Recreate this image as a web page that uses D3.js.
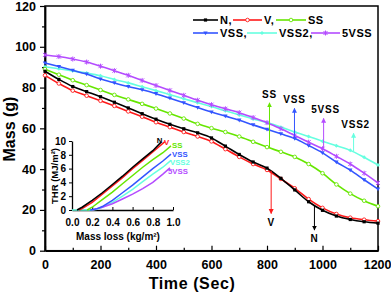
<!DOCTYPE html>
<html>
<head>
<meta charset="utf-8">
<script src="https://cdn.jsdelivr.net/npm/d3@7"></script>
<style>
	body { margin: 0; background: #fff; }
	text { font-family: "Liberation Sans", Arial, sans-serif; font-weight: bold; }
</style>
</head>
<body>
<div id="chart-area"></div>
<script>

// time (s) and mass (g)
var time = [0, 50, 100, 150, 200, 250, 300, 350, 400, 450, 500, 550, 600,
	650, 700, 750, 800, 850, 900, 950, 1000, 1050, 1100, 1150, 1200];

var massN = [88, 84, 80.5, 78, 75.5, 72.8, 70, 67.2, 64.5, 62, 59.8, 57.8, 55.3,
	51.3, 47.2, 43.5, 40.5, 35.5, 29.8, 24, 19.8, 17, 15.3, 14.2, 13.5];
var massV = [86, 82, 78.5, 76, 73.5, 71, 68.3, 65.7, 63, 60.6, 58.2, 56, 53.6,
	49.8, 46, 42.5, 39.6, 35.2, 30.6, 25.3, 21, 18, 16.2, 15.2, 14.5];
var massSS = [89, 86.3, 83.6, 81.2, 78.8, 76.4, 74.2, 72, 69.7, 67.3, 64.8, 62.2, 60.1,
	58.2, 56, 53.4, 50.8, 48.5, 46, 42.5, 38, 32.5, 28, 24.5, 21.8];
var massVSS = [92, 90.3, 88.5, 86.6, 84.2, 82.3, 80.5, 78.9, 77, 74.8, 72.5, 70.2, 68,
	66, 64, 61.7, 59.5, 57.3, 55, 51.6, 48, 43.5, 39.5, 34.8, 30.2];
var massVSS2 = [90.2, 89.2, 88.2, 87.1, 85.8, 84, 82.3, 80.4, 78.5, 76.5, 74.5, 72.6, 70.7,
	68.6, 66.6, 64.6, 62.8, 60.6, 58.2, 56, 53.7, 51.5, 49.2, 45.8, 42];
var mass5VSS = [96, 95.2, 94, 92.5, 90.5, 88.3, 86, 83.5, 81, 78.6, 76.2, 73.8, 71.6,
	69.6, 67.7, 65.3, 62.8, 59.8, 56.5, 53.2, 50, 46.3, 42.5, 38, 33.2];

var seriesNames = ["N", "V", "SS", "VSS", "VSS2", "5VSS"];
var legendNames = ["N,", "V,", "SS", "VSS,", "VSS2,", "5VSS"];
var seriesColors = ["#000000", "#ff1a1a", "#66e600", "#3355ff", "#66ffe0", "#b44cff"];

// arrows pointing at the curves
var arrowNames = ["SS", "VSS", "5VSS", "VSS2", "V", "N"];
var arrowTime = [809, 899, 1004, 1112, 815, 971];
var arrowFrom = [50.5, 55, 50, 48.8, 39.3, 22];
var arrowTo = [72.5, 69.8, 64.9, 57.6, 18.2, 10.1];

// inset: THR (MJ/m2) against mass loss (kg/m2)
var lossN = [0.05, 0.1, 0.2, 0.3, 0.4, 0.5, 0.6, 0.7, 0.8, 0.88];
var thrN = [0, 0.4, 1.4, 2.5, 3.7, 4.9, 6.2, 7.4, 8.6, 9.8];
var lossV = [0.07, 0.1, 0.2, 0.3, 0.4, 0.5, 0.6, 0.7, 0.8, 0.92];
var thrV = [0, 0.2, 1.1, 2.3, 3.5, 4.7, 6, 7.2, 8.4, 9.9];
var lossSS = [0.15, 0.2, 0.3, 0.4, 0.5, 0.6, 0.7, 0.8, 0.9, 0.98];
var thrSS = [0, 0.4, 1.5, 2.6, 3.8, 5, 6.2, 7.3, 8.3, 9.3];
var lossVSS = [0.18, 0.25, 0.3, 0.4, 0.5, 0.6, 0.7, 0.8, 0.9, 0.98];
var thrVSS = [0, 0.2, 0.5, 1.4, 2.5, 3.6, 4.8, 6, 7.1, 8.1];
var lossVSS2 = [0, 0.1, 0.2, 0.25, 0.3, 0.4, 0.5, 0.6, 0.7, 0.8, 0.9, 0.98];
var thrVSS2 = [0, 0, 0, 0.1, 0.4, 1.1, 2, 3, 4.1, 5.2, 6.2, 7.2];
var loss5VSS = [0.2, 0.3, 0.4, 0.5, 0.6, 0.7, 0.8, 0.9, 0.97];
var thr5VSS = [0, 0.4, 0.9, 1.6, 2.3, 3.1, 4, 5.2, 6.1];
var insetLabelX = [0.84, 0.91, 0.99, 0.99, 0.97, 0.95];
var insetLabelY = [10.1, 9.8, 9.35, 8.1, 6.95, 5.7];

var allMass = [massN, massV, massSS, massVSS, massVSS2, mass5VSS];
var allLoss = [lossN, lossV, lossSS, lossVSS, lossVSS2, loss5VSS];
var allThr = [thrN, thrV, thrSS, thrVSS, thrVSS2, thr5VSS];

var svg = d3.select("#chart-area").append("svg")
	.attr("width", 391)
	.attr("height", 294);

var x = d3.scaleLinear().domain([0, 1200]).range([45, 378]);
var y = d3.scaleLinear().domain([0, 120]).range([250.7, 6]);

// frame
svg.append("rect")
	.attr("x", x(0)).attr("y", y(120))
	.attr("width", x(1200) - x(0)).attr("height", y(0) - y(120))
	.attr("fill", "none").attr("stroke", "#000").attr("stroke-width", 1.5);

// minor ticks
svg.append("g")
	.attr("transform", "translate(0," + y(0) + ")")
	.call(d3.axisBottom(x).tickValues(d3.range(100, 1200, 200)).tickSize(-3).tickFormat(""))
	.call(function(g) { g.select(".domain").remove(); });
svg.append("g")
	.attr("transform", "translate(" + x(0) + ",0)")
	.call(d3.axisLeft(y).tickValues(d3.range(10, 120, 20)).tickSize(3).tickFormat(""))
	.call(function(g) { g.select(".domain").remove(); });

var xAxis = svg.append("g")
	.attr("class", "axis xAxis")
	.attr("transform", "translate(0," + y(0) + ")")
	.call(d3.axisBottom(x).tickValues(d3.range(0, 1201, 200)).tickFormat(d3.format("d"))
		.tickSizeInner(-5).tickSizeOuter(0).tickPadding(9));
var yAxis = svg.append("g")
	.attr("class", "axis yAxis")
	.attr("transform", "translate(" + x(0) + ",0)")
	.call(d3.axisLeft(y).tickValues(d3.range(0, 121, 20)).tickSizeInner(5).tickSizeOuter(0).tickPadding(4));

svg.selectAll(".axis .domain").attr("stroke-width", 1.8);
svg.selectAll(".axis text").attr("font-size", "12.5px").attr("fill", "#000");
svg.selectAll(".tick line").attr("stroke-width", 1.2);
// keep the last label inside the window
xAxis.selectAll(".tick text").filter(function(d) { return d == 1200; }).attr("text-anchor", "end").attr("dx", "13px");

svg.append("text")
	.attr("x", 192).attr("y", 289)
	.attr("text-anchor", "middle")
	.attr("font-size", "16px")
	.attr("letter-spacing", "0.6px")
	.text("Time (Sec)");
svg.append("text")
	.attr("transform", "translate(15,129) rotate(-90)")
	.attr("text-anchor", "middle")
	.attr("font-size", "16px")
	.text("Mass (g)");

// markers
var drawMarker = function(g, k, cx, cy) {
	var c = seriesColors[k];
	if (k == 0) {
		g.append("rect").attr("x", cx - 1.6).attr("y", cy - 1.6).attr("width", 3.2).attr("height", 3.2).attr("fill", c);
	} else if (k == 1 || k == 2) {
		g.append("circle").attr("cx", cx).attr("cy", cy).attr("r", 1.8).attr("fill", "#fff").attr("stroke", c).attr("stroke-width", 0.9);
	} else if (k == 3) {
		g.append("path").attr("d", "M" + (cx - 2.2) + "," + (cy - 1.6) + "h4.4l-2.2,3.8z").attr("fill", c);
	} else if (k == 4) {
		g.append("path").attr("d", "M" + cx + "," + (cy - 2) + "l2,2l-2,2l-2,-2z").attr("fill", c);
	} else {
		g.append("path").attr("d", "M" + (cx - 2) + "," + (cy - 2) + "l4,4M" + (cx + 2) + "," + (cy - 2) + "l-4,4M" + cx + "," + (cy - 2.5) + "v5")
			.attr("stroke", c).attr("stroke-width", 1);
	}
};

var line = d3.line()
	.x(function(d) { return x(d[0]); })
	.y(function(d) { return y(d[1]); })
	.curve(d3.curveMonotoneX);

var drawOrder = [4, 3, 5, 2, 1, 0];
drawOrder.forEach(function(k) {
	var pts = time.map(function(t, i) { return [t, allMass[k][i]]; });
	var g = svg.append("g");
	g.append("path")
		.attr("d", line(pts))
		.attr("fill", "none")
		.attr("stroke", seriesColors[k])
		.attr("stroke-width", 1.6);
	pts.forEach(function(p) { drawMarker(g, k, x(p[0]), y(p[1])); });
});

// arrows
var arrowColor = { "SS": 2, "VSS": 3, "5VSS": 5, "VSS2": 4, "V": 1, "N": 0 };
svg.append("defs").selectAll("marker")
	.data(seriesNames)
	.enter().append("marker")
	.attr("id", function(d, i) { return "ah" + i; })
	.attr("viewBox", "0 0 10 10")
	.attr("refX", 9).attr("refY", 5)
	.attr("markerWidth", 5).attr("markerHeight", 6)
	.attr("markerUnits", "userSpaceOnUse")
	.attr("orient", "auto")
	.append("path").attr("d", "M0,0L10,5L0,10z")
	.attr("fill", function(d, i) { return seriesColors[i]; });

arrowNames.forEach(function(name, i) {
	var k = arrowColor[name];
	var up = arrowTo[i] > arrowFrom[i];
	svg.append("line")
		.attr("x1", x(arrowTime[i])).attr("x2", x(arrowTime[i]))
		.attr("y1", y(arrowFrom[i])).attr("y2", y(arrowTo[i]))
		.attr("stroke", seriesColors[k]).attr("stroke-width", 1)
		.attr("marker-end", "url(#ah" + k + ")");
	svg.append("text")
		.attr("x", x(arrowTime[i]) + (name == "5VSS" || name == "VSS2" ? 2 : 0))
		.attr("y", up ? y(arrowTo[i]) - 5 : y(arrowTo[i]) + 12)
		.attr("text-anchor", "middle")
		.attr("font-size", "10px")
		.attr("letter-spacing", "0.8px")
		.text(name);
});

// legend
var legX = [193, 233, 276, 193, 247, 311];
var legY = [20, 20, 20, 33, 33, 33];
var legW = [25, 29, 30, 25, 30, 29];
legendNames.forEach(function(name, k) {
	var g = svg.append("g");
	g.append("line")
		.attr("x1", legX[k]).attr("x2", legX[k] + legW[k])
		.attr("y1", legY[k]).attr("y2", legY[k])
		.attr("stroke", seriesColors[k]).attr("stroke-width", 1.6);
	drawMarker(g, k, legX[k] + legW[k] / 2, legY[k]);
	g.append("text")
		.attr("x", legX[k] + legW[k] + 2).attr("y", legY[k] + 4)
		.attr("font-size", "11px")
		.attr("letter-spacing", "0.5px")
		.text(name);
});

// inset
var ix = d3.scaleLinear().domain([0, 1]).range([72, 173]);
var iy = d3.scaleLinear().domain([0, 10]).range([210, 141]);

var ixAxis = svg.append("g")
	.attr("class", "inset")
	.attr("transform", "translate(0," + iy(0) + ")")
	.call(d3.axisBottom(ix).tickValues(d3.range(0, 1.01, 0.2)).tickFormat(d3.format(".1f"))
		.tickSizeInner(-3).tickSizeOuter(0).tickPadding(9));
var iyAxis = svg.append("g")
	.attr("class", "inset")
	.attr("transform", "translate(" + ix(0) + ",0)")
	.call(d3.axisLeft(iy).tickValues(d3.range(0, 10.1, 2)).tickSizeInner(3).tickSizeOuter(0).tickPadding(3));
svg.selectAll(".inset text").attr("font-size", "10px").attr("fill", "#000");
svg.selectAll(".inset .domain").attr("stroke-width", 1.3);

svg.append("text")
	.attr("x", 118).attr("y", 240)
	.attr("text-anchor", "middle")
	.attr("font-size", "10px")
	.text("Mass loss (kg/m²)");
svg.append("text")
	.attr("transform", "translate(58,176) rotate(-90)")
	.attr("text-anchor", "middle")
	.attr("font-size", "9.5px")
	.text("THR (MJ/m²)");

var iline = d3.line()
	.x(function(d) { return ix(d[0]); })
	.y(function(d) { return iy(d[1]); });

[4, 5, 3, 2, 1, 0].forEach(function(k) {
	var pts = allLoss[k].map(function(v, i) { return [v, allThr[k][i]]; });
	svg.append("path")
		.attr("d", iline(pts))
		.attr("fill", "none")
		.attr("stroke", seriesColors[k])
		.attr("stroke-width", 1.5);
});

seriesNames.forEach(function(name, k) {
	svg.append("text")
		.attr("x", ix(insetLabelX[k]))
		.attr("y", iy(insetLabelY[k]) + 3)
		.attr("font-size", "7.8px")
		.attr("fill", k == 0 ? "#000" : seriesColors[k])
		.text(name);
});

</script>
</body>
</html>
